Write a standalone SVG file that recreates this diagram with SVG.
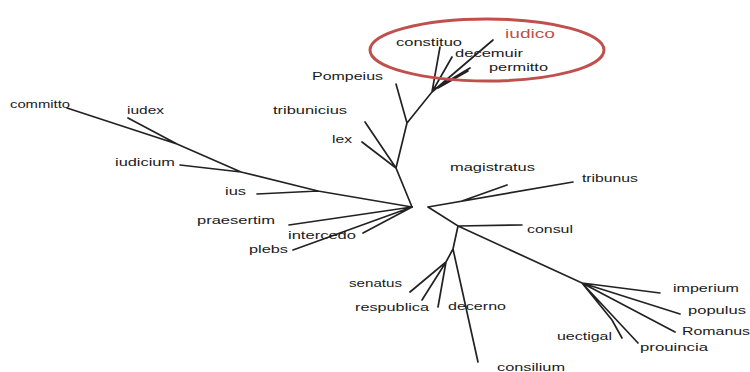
<svg xmlns="http://www.w3.org/2000/svg" width="750" height="372" viewBox="0 0 750 372">
<style>
.t{font-family:"Liberation Sans",Arial,sans-serif;font-size:11px;fill:#1a1a1a}
.r{font-family:"Liberation Sans",Arial,sans-serif;font-size:13px;fill:#c0504d}
.e{stroke:#222;stroke-width:1.7;fill:none;stroke-linecap:round}
</style>
<rect width="750" height="372" fill="#fff"/>
<g id="connectors" class="e">
<path d="M412,207 L396,168 L362,142 M396,168 L365,122 M396,168 L407,123 L396,84 M407,123 L432,92 L440,47 M432,92 L452,57 M432,92 L493,40 M433,90 L470,68 M438,88 L468,71"/>
<path d="M412,207 L318,191 L257,194 M318,191 L241,172 L180,165 M241,172 L177,144 L67,108 M177,144 L128,118"/>
<path d="M412,207 L289,225 M412,207 L363,233 M412,207 L293,250"/>
<path d="M428,207 L573,182 M462,201 L507,185 M428,207 L458,226 L522,225 M458,226 L582,283 L660,293 M582,283 L680,314 M582,283 L675,332 M582,283 L638,343 M582,283 L612,320 L622,338"/>
<path d="M458,226 L453,249 L478,362 M453,249 L446,262 L410,292 M446,262 L422,300 M446,262 L438,307"/>
</g>
<g id="highlight"><ellipse cx="487" cy="50" rx="117" ry="31" fill="none" stroke="#c0504d" stroke-width="3"/></g>
<g id="n-iudico"><text class="r" x="505" y="38" textLength="50" lengthAdjust="spacingAndGlyphs">iudico</text></g>
<g id="n-constituo"><text class="t" x="396" y="46" textLength="66" lengthAdjust="spacingAndGlyphs">constituo</text></g>
<g id="n-decemuir"><text class="t" x="455" y="57" textLength="68" lengthAdjust="spacingAndGlyphs">decemuir</text></g>
<g id="n-permitto"><text class="t" x="489" y="71" textLength="59" lengthAdjust="spacingAndGlyphs">permitto</text></g>
<g id="n-Pompeius"><text class="t" x="312" y="80" textLength="71" lengthAdjust="spacingAndGlyphs">Pompeius</text></g>
<g id="n-tribunicius"><text class="t" x="273" y="114" textLength="74" lengthAdjust="spacingAndGlyphs">tribunicius</text></g>
<g id="n-lex"><text class="t" x="332" y="143" textLength="20" lengthAdjust="spacingAndGlyphs">lex</text></g>
<g id="n-committo"><text class="t" x="10" y="108" textLength="60" lengthAdjust="spacingAndGlyphs">committo</text></g>
<g id="n-iudex"><text class="t" x="127" y="114" textLength="37" lengthAdjust="spacingAndGlyphs">iudex</text></g>
<g id="n-iudicium"><text class="t" x="115" y="166" textLength="60" lengthAdjust="spacingAndGlyphs">iudicium</text></g>
<g id="n-ius"><text class="t" x="225" y="195" textLength="21" lengthAdjust="spacingAndGlyphs">ius</text></g>
<g id="n-praesertim"><text class="t" x="197" y="224" textLength="78" lengthAdjust="spacingAndGlyphs">praesertim</text></g>
<g id="n-intercedo"><text class="t" x="288" y="239" textLength="68" lengthAdjust="spacingAndGlyphs">intercedo</text></g>
<g id="n-plebs"><text class="t" x="249" y="253" textLength="39" lengthAdjust="spacingAndGlyphs">plebs</text></g>
<g id="n-magistratus"><text class="t" x="450" y="171" textLength="85" lengthAdjust="spacingAndGlyphs">magistratus</text></g>
<g id="n-tribunus"><text class="t" x="582" y="182" textLength="56" lengthAdjust="spacingAndGlyphs">tribunus</text></g>
<g id="n-consul"><text class="t" x="527" y="233" textLength="46" lengthAdjust="spacingAndGlyphs">consul</text></g>
<g id="n-senatus"><text class="t" x="349" y="287" textLength="53" lengthAdjust="spacingAndGlyphs">senatus</text></g>
<g id="n-respublica"><text class="t" x="355" y="311" textLength="74" lengthAdjust="spacingAndGlyphs">respublica</text></g>
<g id="n-decerno"><text class="t" x="448" y="310" textLength="58" lengthAdjust="spacingAndGlyphs">decerno</text></g>
<g id="n-consilium"><text class="t" x="497" y="371" textLength="68" lengthAdjust="spacingAndGlyphs">consilium</text></g>
<g id="n-imperium"><text class="t" x="673" y="292" textLength="66" lengthAdjust="spacingAndGlyphs">imperium</text></g>
<g id="n-populus"><text class="t" x="688" y="314" textLength="58" lengthAdjust="spacingAndGlyphs">populus</text></g>
<g id="n-Romanus"><text class="t" x="682" y="335" textLength="68" lengthAdjust="spacingAndGlyphs">Romanus</text></g>
<g id="n-uectigal"><text class="t" x="557" y="340" textLength="55" lengthAdjust="spacingAndGlyphs">uectigal</text></g>
<g id="n-prouincia"><text class="t" x="640" y="351" textLength="68" lengthAdjust="spacingAndGlyphs">prouincia</text></g>
</svg>
